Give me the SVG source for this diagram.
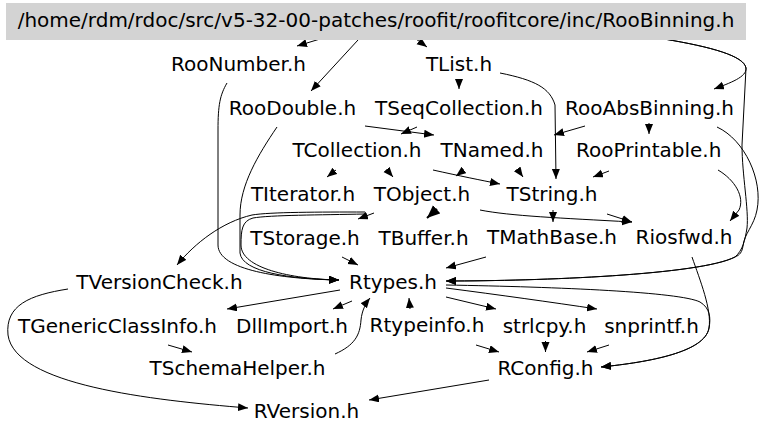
<svg xmlns="http://www.w3.org/2000/svg" width="768" height="435" viewBox="0 0 768 435">
<defs>
<style>
text{font-family:"DejaVu Sans","Liberation Sans",sans-serif;font-size:20px;fill:#000;text-anchor:middle}
.e{fill:none;stroke:#000;stroke-width:1;marker-end:url(#a)}
.n{fill:none;stroke:#000;stroke-width:1}
.t{fill:none;stroke:#000;stroke-width:2;marker-end:url(#b)}
</style>
<marker id="a" markerUnits="userSpaceOnUse" markerWidth="11" markerHeight="9" refX="10" refY="4" orient="auto"><path d="M0,0 L10,4 L0,8 z" fill="#000"/></marker>
<marker id="b" markerUnits="userSpaceOnUse" markerWidth="14" markerHeight="12" refX="13" refY="5.5" orient="auto"><path d="M0,0 L13,5.5 L0,11 z" fill="#000"/></marker>
</defs>
<rect width="768" height="435" fill="#fff"/>
<g id="edges">
<path class="e" d="M320,39 L297,46"/>
<path class="e" d="M358,40 L311,91"/>
<path class="e" d="M416,39 L427,47"/>
<path class="e" d="M664,39 C712,47 744,56 746,68 C747,77 730,83 714,89"/>
<path class="e" d="M664,39 C712,47 744,56 746,68 L742,145 C742,175 749,210 747,228 C745,240 743,250 735,257 C700,275 540,281 446,281"/>
<path class="e" d="M717,127 C745,140 763,180 757,210 C754,226 744,234 743,246 C742,252 740,255 735,257 C700,275 540,281 446,281"/>
<path class="e" d="M227,83 C220,95 218,105 218,130 L218,245 C218,270 280,279 339,280"/>
<path class="e" d="M277,127 C258,155 240,185 240,215 L240,253 C242,272 290,279 339,280"/>
<path class="e" d="M365,214 C320,215 270,215 253,218 C242,221 241,230 241,245 C241,268 290,279 339,280"/>
<path class="e" d="M365,212 C320,212 270,212 252,215 C222,222 195,243 177,265"/>
<path class="e" d="M374,213 L358,219"/>
<path class="t" d="M437,209 L427,218"/>
<path class="e" d="M480,210 C510,216 560,218 632,222"/>
<path class="e" d="M607,214 L632,222"/>
<path class="e" d="M553,210 L553,222"/>
<path class="e" d="M486,257 L446,268"/>
<path class="e" d="M342,257 L358,265"/>
<path class="e" d="M336,170 L327,177"/>
<path class="e" d="M387,170 L393,177"/>
<path class="e" d="M433,170 C460,176 480,180 500,184"/>
<path class="e" d="M464,170 L456,176"/>
<path class="e" d="M518,170 L523,177"/>
<path class="e" d="M500,73 C535,80 550,88 555,105 L556,179"/>
<path class="e" d="M459,79 L459,89"/>
<path class="e" d="M365,126 L434,135"/>
<path class="e" d="M417,127 L401,134"/>
<path class="e" d="M585,126 L554,135"/>
<path class="e" d="M649,123 L649,134"/>
<path class="e" d="M609,171 L593,177"/>
<path class="e" d="M718,170 C735,180 745,197 739,210 L730,221"/>
<path class="e" d="M692,257 C700,280 712,310 709,328 C705,352 650,362 601,367"/>
<path class="e" d="M446,285 C560,287 680,292 700,302 C710,308 711,318 709,328 C705,352 650,362 601,367"/>
<path class="e" d="M340,290 L227,309"/>
<path class="e" d="M352,301 L333,309"/>
<path class="e" d="M335,354 C355,345 360,335 361,320 C362,310 366,303 370,298"/>
<path class="e" d="M410,309 L409,298"/>
<path class="e" d="M446,297 L496,309"/>
<path class="e" d="M446,288 C500,295 550,302 597,309"/>
<path class="e" d="M476,345 L499,352"/>
<path class="e" d="M545.5,341 L545.5,352"/>
<path class="e" d="M609,345 L587,352"/>
<path class="e" d="M489,380 L369,400"/>
<path class="e" d="M68,289 C30,295 5,305 8,335 C15,385 150,400 248,408"/>
<path class="e" d="M168,345 L192,352"/>
</g>
<g id="n_title"><rect x="6" y="3" width="740" height="37" fill="#d3d3d3"/><text x="376" y="27">/home/rdm/rdoc/src/v5-32-00-patches/roofit/roofitcore/inc/RooBinning.h</text></g>
<g id="n_RooNumber"><text x="238.5" y="71">RooNumber.h</text></g>
<g id="n_TList"><text x="459" y="71">TList.h</text></g>
<g id="n_RooDouble"><text x="292.5" y="115">RooDouble.h</text></g>
<g id="n_TSeqCollection"><text x="459" y="115">TSeqCollection.h</text></g>
<g id="n_RooAbsBinning"><text x="649.5" y="115">RooAbsBinning.h</text></g>
<g id="n_TCollection"><text x="357" y="157">TCollection.h</text></g>
<g id="n_TNamed"><text x="492" y="157">TNamed.h</text></g>
<g id="n_RooPrintable"><text x="648.7" y="157">RooPrintable.h</text></g>
<g id="n_TIterator"><text x="303" y="201">TIterator.h</text></g>
<g id="n_TObject"><text x="422" y="201">TObject.h</text></g>
<g id="n_TString"><text x="552" y="201">TString.h</text></g>
<g id="n_TStorage"><text x="305" y="244.5">TStorage.h</text></g>
<g id="n_TBuffer"><text x="423.5" y="244.5">TBuffer.h</text></g>
<g id="n_TMathBase"><text x="552" y="244">TMathBase.h</text></g>
<g id="n_Riosfwd"><text x="684" y="244">Riosfwd.h</text></g>
<g id="n_TVersionCheck"><text x="159.5" y="289">TVersionCheck.h</text></g>
<g id="n_Rtypes"><text x="393" y="288.5">Rtypes.h</text></g>
<g id="n_TGenericClassInfo"><text x="117.5" y="332.5">TGenericClassInfo.h</text></g>
<g id="n_DllImport"><text x="292" y="332.5">DllImport.h</text></g>
<g id="n_Rtypeinfo"><text x="427" y="332">Rtypeinfo.h</text></g>
<g id="n_strlcpy"><text x="544.5" y="332.5">strlcpy.h</text></g>
<g id="n_snprintf"><text x="651.5" y="332.5">snprintf.h</text></g>
<g id="n_TSchemaHelper"><text x="237.5" y="375">TSchemaHelper.h</text></g>
<g id="n_RConfig"><text x="545.5" y="375">RConfig.h</text></g>
<g id="n_RVersion"><text x="306.5" y="418">RVersion.h</text></g>
</svg>
